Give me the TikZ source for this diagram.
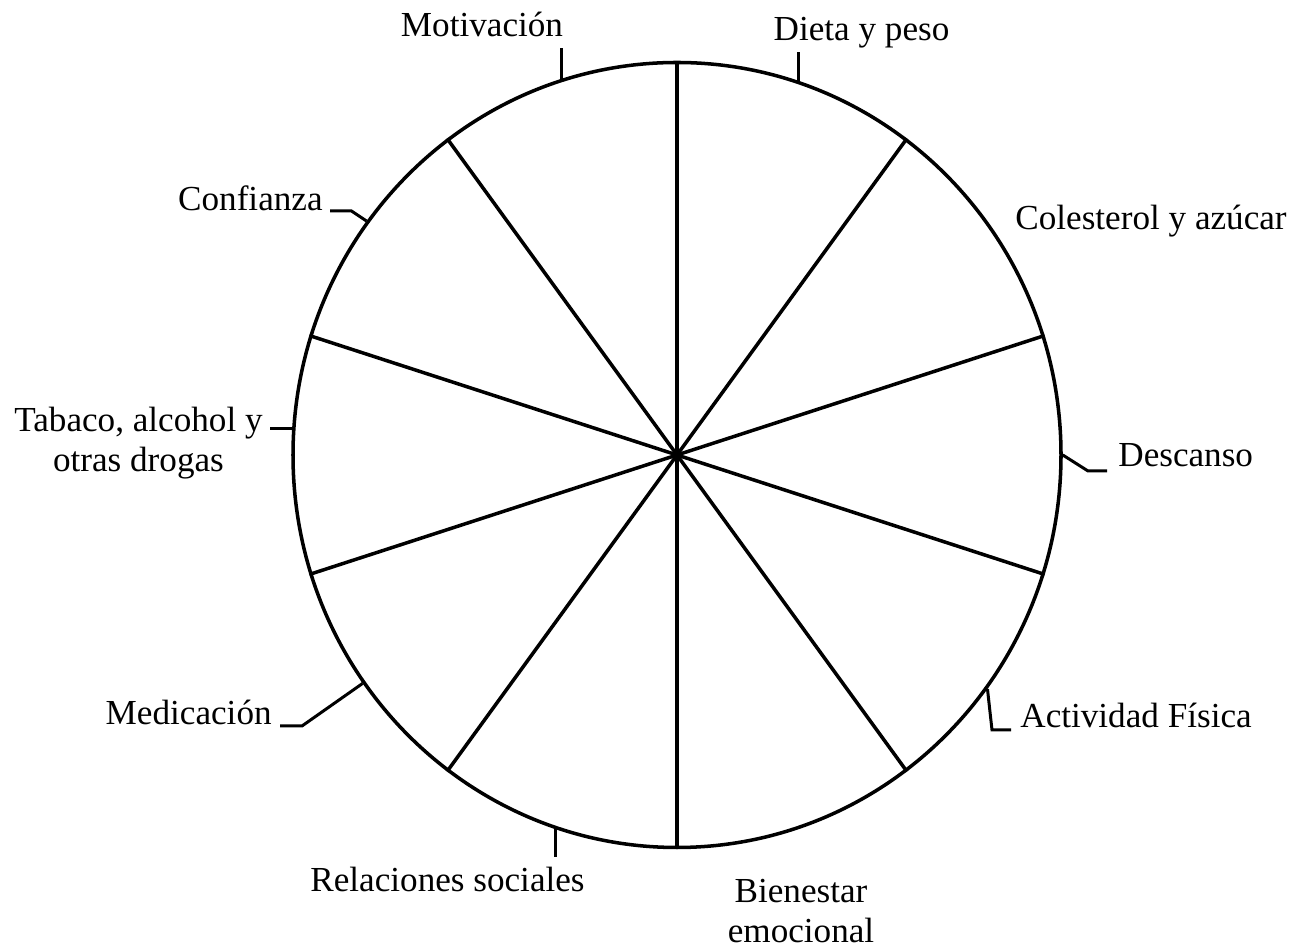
\documentclass[tikz,border=0pt]{standalone}
\usepackage{fontspec}
\setmainfont{Liberation Serif}
\usetikzlibrary{shapes.geometric}

\begin{document}
\begin{tikzpicture}[
    font=\fontsize{20}{23}\selectfont,
    wheel/.style={
        draw=black,
        ellipse,
        line width=2pt,
        minimum width=15.36cm,
        minimum height=15.7cm,
        inner sep=0pt
    },
    spoke/.style={
        draw=black,
        line width=2pt
    },
    leader/.style={
        draw=black,
        line width=1.7pt
    },
    label/.style={
        inner sep=2pt,
        align=center
    }
]
\useasboundingbox (0,0) rectangle (25.92,19);

% Wheel
\node[wheel] (w) at (13.54,9.9) {};
\foreach \a in {18,54,...,342}
    \draw[spoke] (w.center) -- (w.\a);
\draw[spoke] (w.center) -- (w.north);
\draw[spoke] (w.center) -- (w.south);

% Labels
\node[label, anchor=base] (mot) at (9.64,18.26) {Motivación};
\node[label, anchor=base] (die) at (17.23,18.18) {Dieta y peso};
\node[label, anchor=base east] (con) at (6.53,14.78) {Confianza};
\node[label, anchor=base] (col) at (23.02,14.4) {Colesterol y azúcar};
\node[label, anchor=base east] (tab) at (5.33,9.56) {Tabaco, alcohol y\\otras drogas};
\node[label, anchor=base west] (des) at (22.29,9.66) {Descanso};
\node[label, anchor=base east] (med) at (5.51,4.5) {Medicación};
\node[label, anchor=base west] (act) at (20.33,4.44) {Actividad Física};
\node[label, anchor=base] (rel) at (8.95,1.16) {Relaciones sociales};
\node[label, anchor=base] (bie) at (16.02,0.14) {Bienestar\\emocional};

% Leaders
\draw[leader] (w.107.8) -- ([yshift=-4pt]w.107.8 |- mot.south);
\draw[leader] (w.72.2) -- (w.72.2 |- die.south);
\draw[leader] (w.143.1) -- ([xshift=0.5cm]con.base east) -- ([xshift=2pt]con.base east);
\draw[leader] (w.176.6) -- ([xshift=2pt]tab.east |- w.176.6);
\draw[leader] (w.east) -- ([xshift=-0.53cm,yshift=-0.08cm]des.base west) -- ([xshift=-0.15cm,yshift=-0.08cm]des.base west);
\draw[leader] (w.-37.2) -- ([xshift=-0.49cm,yshift=-0.04cm]act.base west) -- ([xshift=-0.11cm,yshift=-0.04cm]act.base west);
\draw[leader] (w.216.6) -- ([xshift=0.53cm,yshift=-0.02cm]med.base east) -- ([xshift=0.09cm,yshift=-0.02cm]med.base east);
\draw[leader] (w.252.2) -- ([yshift=4pt]w.252.2 |- rel.north);

\end{tikzpicture}
\end{document}
